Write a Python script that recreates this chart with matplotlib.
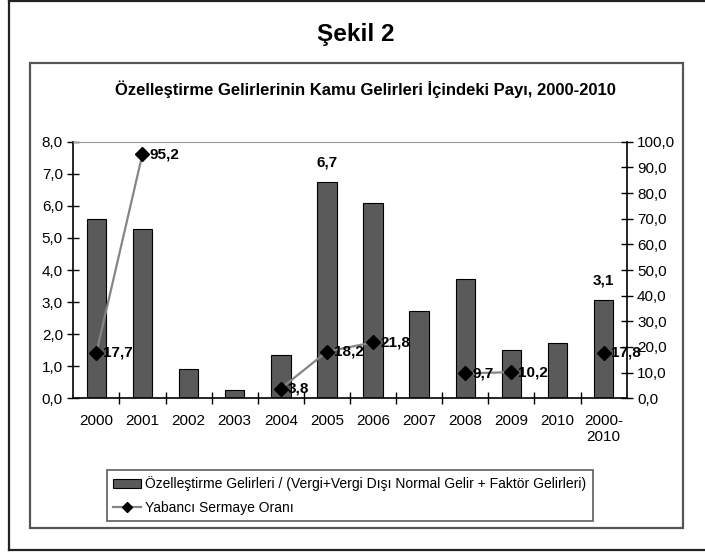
import matplotlib.pyplot as plt
import numpy as np
from matplotlib.patches import Rectangle
from matplotlib.lines import Line2D

plt.rcParams['font.family'] = ['Liberation Sans', 'DejaVu Sans']

categories = ['2000', '2001', '2002', '2003', '2004', '2005', '2006', '2007',
              '2008', '2009', '2010', '2000-\n2010']
gelir_payi = [5.6, 5.27, 0.9, 0.26, 1.35, 6.75, 6.08, 2.71, 3.72, 1.51, 1.73, 3.08]
bar_labels = {5: '6,7', 11: '3,1'}
yabanci_orani = [17.7, 95.2, np.nan, np.nan, 3.8, 18.2, 21.8, np.nan, 9.7, 10.2, np.nan, 17.8]

fig = plt.figure(figsize=(7.05, 5.52), dpi=100)
W, H = 705, 552

# outer frame (right edge falls outside the picture)
for xs, ys in [([8.7, 8.7], [1, 550]), ([8.7, 705], [1, 1]), ([8.7, 705], [550, 550])]:
    fig.add_artist(Line2D([x / W for x in xs], [1 - y / H for y in ys],
                          color='#222222', lw=1.6))
# inner chart frame
fig.add_artist(Rectangle((30 / W, 1 - 527.7 / H), (682.7 - 30) / W, (527.7 - 62.7) / H,
                         fill=False, edgecolor='#555555', lw=1.6))

fig.text(356 / W, 1 - 35 / H, 'Şekil 2', ha='center', va='center',
         fontsize=17.5, fontweight='bold')
fig.text(365 / W, 1 - 89 / H, 'Özelleştirme Gelirlerinin Kamu Gelirleri İçindeki Payı, 2000-2010',
         ha='center', va='center', fontsize=12, fontweight='bold')

ax = fig.add_axes([73.3 / W, 1 - 398.3 / H, (626.7 - 73.3) / W, (398.3 - 141.7) / H])
x = np.arange(len(categories))
bars = ax.bar(x, gelir_payi, width=0.42, color='#5a5a5a', edgecolor='black',
              linewidth=0.8, label='Özelleştirme Gelirleri / (Vergi+Vergi Dışı Normal Gelir + Faktör Gelirleri)')
ax.set_xlim(-0.5, len(categories) - 0.5)
ax.set_ylim(0, 8)
ax.set_yticks(np.arange(0, 9, 1))
ax.set_yticklabels([f'{v:.1f}'.replace('.', ',') for v in np.arange(0, 9, 1)])
ax.set_xticks(x)
ax.set_xticklabels(categories, fontsize=11)
ax.set_xticks(np.arange(0.5, len(categories) - 0.5, 1), minor=True)
ax.tick_params(axis='x', which='major', length=0, pad=11)
ax.tick_params(axis='x', which='minor', direction='inout', length=8, width=1)
ax.tick_params(axis='y', direction='inout', length=8, width=1, labelsize=11)
ax.spines['top'].set_color('#999999')
ax.spines['right'].set_visible(False)
ax.spines['left'].set_linewidth(1.2)
ax.spines['bottom'].set_linewidth(1.2)

for i, lab in bar_labels.items():
    ax.annotate(lab, (x[i], gelir_payi[i]), xytext=(0, 9), textcoords='offset points',
                ha='center', va='bottom', fontsize=11, fontweight='bold')

ax2 = ax.twinx()
line, = ax2.plot(x, yabanci_orani, color='#858585', lw=1.6, marker='D', markersize=7,
                 markerfacecolor='black', markeredgecolor='black', label='Yabancı Sermaye Oranı')
ax2.set_ylim(0, 100)
ax2.set_yticks(np.arange(0, 101, 10))
ax2.set_yticklabels([f'{v:.1f}'.replace('.', ',') for v in np.arange(0, 101, 10)])
ax2.tick_params(axis='y', direction='inout', length=8, width=1, labelsize=11)
ax2.spines['right'].set_linewidth(1.2)
ax2.spines['top'].set_visible(False)
ax2.spines['left'].set_visible(False)
ax2.spines['bottom'].set_visible(False)

for i, v in enumerate(yabanci_orani):
    if not np.isnan(v):
        ax2.annotate(f'{v:.1f}'.replace('.', ','), (x[i], v), xytext=(5, 0),
                     textcoords='offset points', ha='left', va='center',
                     fontsize=11, fontweight='bold')

leg = fig.legend([bars, line], [bars.get_label(), line.get_label()],
                 loc='upper left', bbox_to_anchor=(107 / W, 1 - 470 / H),
                 frameon=True, fancybox=False, edgecolor='#333333', fontsize=10,
                 borderpad=0.45, labelspacing=0.7, handlelength=2.0, handletextpad=0.3,
                 borderaxespad=0, markerscale=0.8)
leg.get_frame().set_linewidth(1.2)

fig.savefig('out.png', dpi=100)
